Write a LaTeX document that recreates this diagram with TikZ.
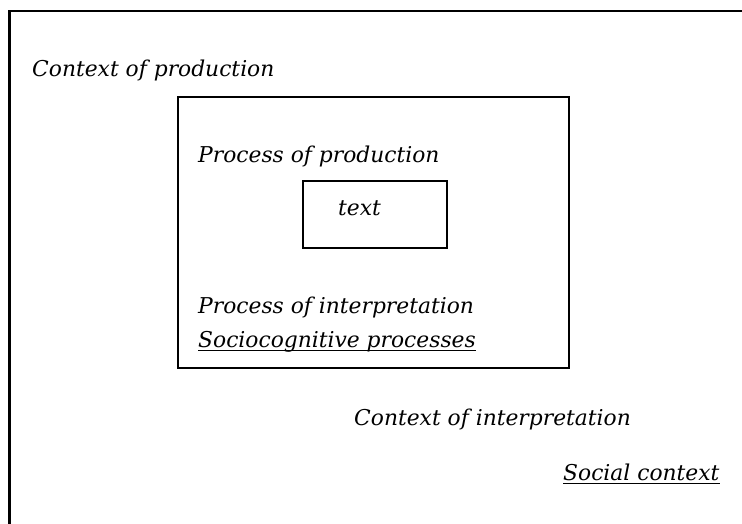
\documentclass[tikz,border=0pt]{standalone}
\usepackage{fontspec}
\setmainfont{DejaVu Serif}
\begin{document}
\begin{tikzpicture}[x=1pt,y=-1pt,
  frame/.style={draw=black,line width=2.2pt},
  uline/.style={draw=black,line width=1.6pt},
  label/.style={inner sep=0pt,anchor=base west,font=\itshape\fontsize{21.8}{26}\selectfont}]
\useasboundingbox (0,0) rectangle (742,524);
\fill[white] (0,0) rectangle (742,524);
% social context: open frame running off the page
\coordinate (oBL) at (9.5,530);
\coordinate (oTL) at (9.5,11);
\coordinate (oTR) at (750,11);
\draw[frame,line cap=rect] (oBL) -- (oTL) -- (oTR);
% process box and text box
\node[frame,minimum width=391pt,minimum height=271pt,anchor=north west,inner sep=0pt] (proc) at (177,96) {};
\node[frame,minimum width=144pt,minimum height=67pt,anchor=north west,inner sep=0pt] (txt) at (302,180) {};
% labels
\node[label] (cprod) at (32,77) {Context of production};
\node[label] (pprod) at (198,163) {Process of production};
\node[label] (tword) at (338,215) {text};
\node[label] (pint) at (198,313) {Process of interpretation};
\node[label] (socio) at (198,347) {Sociocognitive processes};
\node[label] (cint) at (354,425) {Context of interpretation};
\node[label] (soc) at (563,480) {Social context};
% underlines
\draw[uline] ([yshift=-3.5pt]socio.base west) -- ([yshift=-3.5pt]socio.base east);
\draw[uline] ([yshift=-3.5pt]soc.base west) -- ([yshift=-3.5pt]soc.base east);
\end{tikzpicture}
\end{document}
